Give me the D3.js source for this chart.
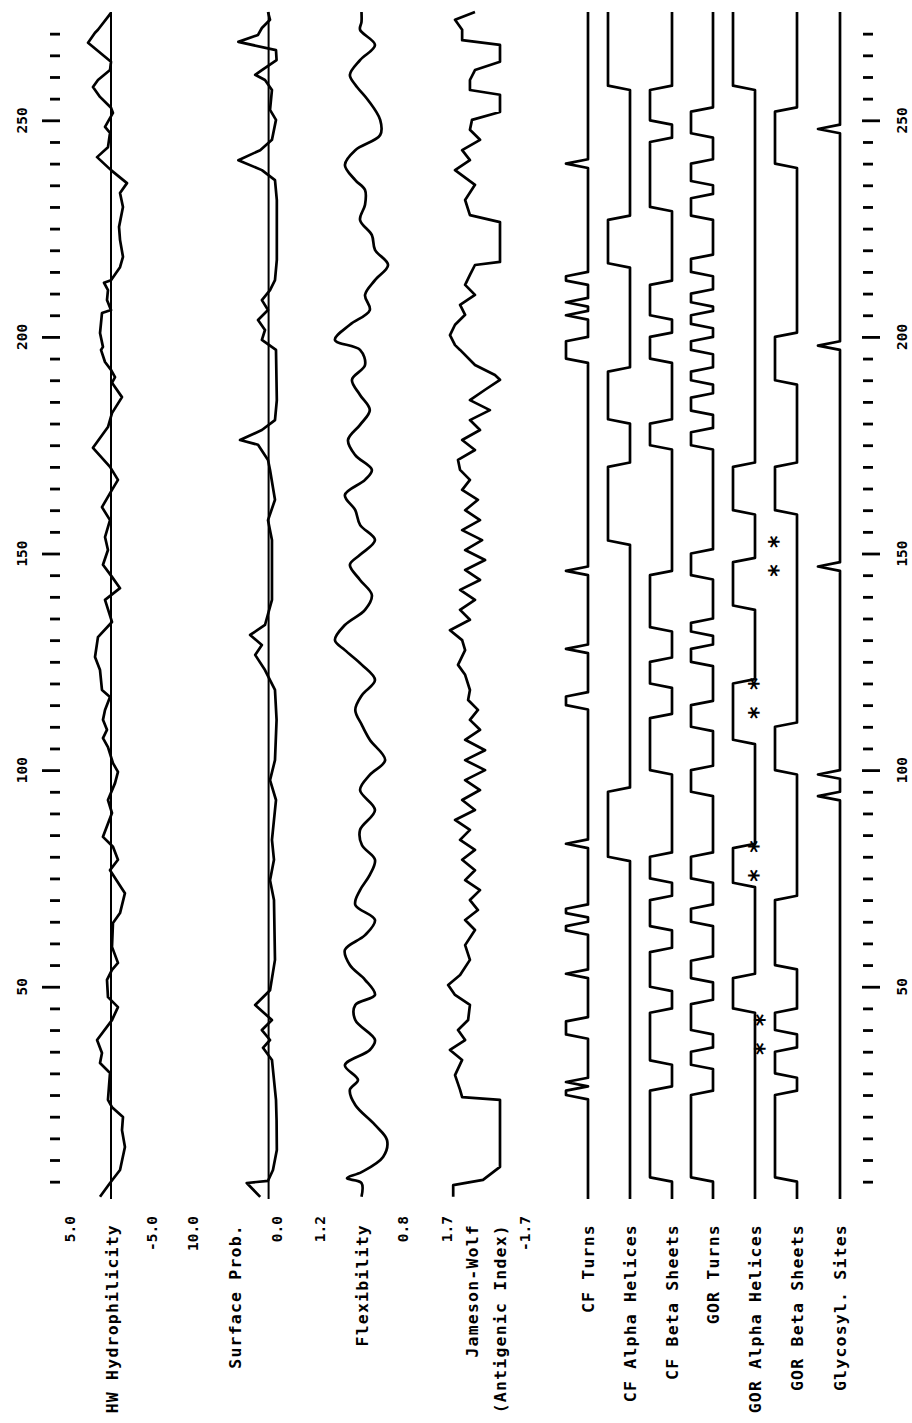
<!DOCTYPE html>
<html><head><meta charset="utf-8">
<script src="https://cdn.jsdelivr.net/npm/d3@7"></script>
<style>
body{margin:0;background:#fff}
text{font-family:"DejaVu Sans Mono","Liberation Mono",monospace;font-weight:bold;fill:#000}
</style>
</head><body>
<svg id="chart" width="912" height="1423"></svg>
<script>
// ---------------- DATA ----------------
const residueTicks = d3.range(5, 271, 5);
const residueLabels = [50, 100, 150, 200, 250];

const trackNames = ["HW Hydrophilicity", "Surface Prob.", "Flexibility", "Jameson-Wolf"];
const trackMaxLabels = ["5.0", "10.0", "1.2", "1.7"];
const trackMinLabels = ["-5.0", "0.0", "0.8", "-1.7"];
const structNames = ["CF Turns", "CF Alpha Helices", "CF Beta Sheets", "GOR Turns",
                     "GOR Alpha Helices", "GOR Beta Sheets", "Glycosyl. Sites"];

// [residue, value]
const hydrophilicity = [[1.5,1.34],[4.7,0.12],[7.7,-1.1],[13,-1.7],[16.9,-1.34],[19.9,-1.46],[22.2,-0.12],[23.9,0.37],[30.1,0.12],[32.4,1.34],[34.7,1.1],[37.7,1.7],[42.3,-0.12],[45.3,-0.85],[47.6,0.37],[51.6,0.49],[53.9,-0.12],[55.5,-0.85],[59.2,-0.12],[64.7,-0.24],[67,-1.1],[71.6,-1.7],[76.9,0.12],[79.3,-0.85],[82.3,-0.24],[84.6,0.98],[90.1,-0.12],[93.1,0.37],[97,-0.49],[99.6,-0.85],[101.6,-0.24],[105.3,0.37],[107.4,0.98],[109.3,0.49],[111.6,0.98],[113.9,0.73],[116.9,0.12],[118.5,1.1],[123.1,1.34],[126.1,1.95],[130.7,1.59],[134.2,-0.12],[139.3,0.73],[142,-1.1],[144.6,-0.12],[147.4,0.98],[150.8,0.37],[153.8,0.73],[157.7,0.12],[160.7,1.1],[164.7,-0.12],[167,-0.85],[170,0.12],[174.4,2.2],[179.2,0.37],[182.4,-0.12],[186.1,-1.34],[189.4,-0.12],[190.7,-0.49],[192.4,0],[194.2,0.73],[197,1.22],[197.7,0.98],[200.9,1.34],[205.5,1.1],[206.2,0],[208.5,0.49],[210.8,0.37],[212.5,0.85],[213.1,0],[216.1,-1.1],[218.5,-1.46],[222.4,-1.1],[225.4,-0.98],[230,-1.46],[233.2,-1.1],[235.5,-1.95],[238.5,0],[241.5,1.7],[243.8,0.37],[247.1,0.12],[248.5,0.73],[251.7,-0.24],[252.9,0],[255.4,1.34],[257.7,2.2],[259.3,1.59],[261.6,0.12],[263.5,0],[267.9,2.8],[270.2,1.95],[270.9,1.59],[274.8,0]];

const surfaceProb = [[1.5,2.0],[4.7,3.6],[5.2,1.07],[7.7,0.48],[12.3,0.02],[19.2,0.05],[23.9,0.12],[33.1,0.6],[35.9,1.67],[37.7,0.83],[40,1.8],[42.3,0.6],[45.8,2.6],[49.2,0.83],[56.2,0.24],[70,0.36],[74.6,0.83],[79.3,0.36],[83.9,0.6],[93.1,0.12],[97.7,0.83],[102.3,0.24],[111.6,0.05],[118.5,0.24],[123.1,1.43],[126.6,2.6],[128.9,1.8],[131.2,3.2],[133.5,1.43],[139.3,0.6],[153.1,0.6],[157.7,1.07],[162.4,0.24],[169.3,0.83],[171.6,1.07],[175.1,2.26],[176.2,4.4],[178.5,1.8],[180.8,0.24],[185.4,0.02],[197,0.12],[199.3,1.8],[201.6,1.43],[203.9,2.26],[206.2,1.07],[208.5,1.8],[210.8,0.83],[213.1,0.24],[217.8,0.02],[231.6,0.02],[236.2,0.24],[238.5,1.8],[240.8,4.6],[243.1,2.0],[245.5,0.6],[250.1,0.12],[252.4,0.83],[257,0.6],[259.3,1.43],[260.5,2.6],[261.6,1.8],[263.9,0.05],[266.2,0.12],[268.1,4.6],[269.7,2.26],[271.3,1.8],[273.2,0.83],[275,1.07]];

const flexibility = [[1.5,1.0],[4.7,1.0],[5.8,1.07],[7.2,1.0],[10.7,0.896],[14.6,0.877],[18.1,0.935],[22.7,1.03],[26.2,1.056],[28.5,1.017],[31.9,1.08],[35.4,0.96],[37.7,0.935],[42.3,1.03],[45.8,1.03],[48.1,0.935],[51.6,0.983],[55,1.056],[58.5,1.08],[61.9,0.983],[65.4,0.935],[68.9,1.03],[72.3,1.007],[75.8,0.96],[79.3,0.935],[82.7,0.998],[86.2,1.007],[90.8,0.935],[95.4,1.007],[98.9,0.96],[102.3,0.886],[107,0.96],[110.4,0.998],[113.9,1.03],[117.3,0.998],[120.8,0.935],[124.3,0.998],[127.7,1.08],[130,1.128],[133.5,1.08],[137,0.983],[140.4,0.95],[143.9,1.007],[147.4,1.056],[149.7,1.007],[153.1,0.935],[156.6,1.007],[160,1.03],[163.5,1.08],[167,0.983],[169.3,0.95],[172.7,1.03],[176.2,1.065],[179.7,1.007],[183.1,0.96],[186.6,1.007],[190.1,1.046],[193.5,0.983],[197,1.007],[199.3,1.128],[202.8,1.056],[206.2,0.96],[209.7,0.983],[213.1,0.935],[216.6,0.872],[220.1,0.935],[223.5,0.95],[227,1.007],[230.5,0.983],[233.9,0.983],[236.2,1.03],[239.7,1.08],[243.1,1.03],[246.6,0.91],[250.1,0.91],[254.7,0.969],[258.2,1.03],[260.5,1.056],[263.9,1.007],[267.4,0.935],[270.9,1.007],[272.7,1.0],[275,1.0]];

const jamesonWolf = [[1.5,1.43],[4.2,1.43],[5.4,0.13],[8.4,-0.61],[23.9,-0.61],[24.5,1.04],[26.2,1.13],[29.6,1.35],[33.1,1.04],[35.4,1.57],[37.7,0.91],[40,1.22],[42.3,0.78],[45.8,0.7],[48.1,1.35],[50.4,1.65],[52.7,1.13],[56.2,0.7],[59.6,0.91],[63.1,0.48],[65.4,0.91],[67.7,0.35],[70,0.7],[72.3,0.26],[74.6,0.91],[76.9,0.48],[79.3,1.04],[81.6,0.48],[83.9,1.13],[86.2,0.7],[88.5,1.35],[90.8,0.48],[93.1,1.04],[95.4,0.26],[97.7,0.91],[100,0.04],[102.3,0.91],[104.6,0.04],[107,0.91],[109.3,0.26],[111.6,0.7],[113.9,0.35],[116.2,0.78],[118.5,0.7],[122,0.91],[124.3,1.22],[127.7,0.91],[130,1.04],[132.3,1.57],[134.7,0.7],[137,1.13],[139.3,0.48],[141.6,1.13],[143.9,0.26],[146.2,0.91],[148.5,0.04],[150.8,0.91],[153.1,0.17],[155.4,1.04],[157.7,0.26],[160,0.91],[162.4,0.35],[164.7,1.04],[167,0.7],[169.3,1.13],[171.6,1.22],[173.9,0.48],[176.2,1.04],[178.5,0.26],[180.8,0.7],[183.1,-0.17],[185.4,0.7],[187.8,0.04],[190.1,-0.61],[191.2,-0.39],[193.5,0.48],[197,1.13],[198.1,1.35],[200.4,1.57],[202.8,1.35],[205.1,0.91],[207.4,1.13],[209.7,0.48],[212,0.91],[214.3,0.7],[216.6,0.48],[217.3,-0.61],[226.5,-0.61],[228.1,0.7],[231.6,0.91],[235.1,0.48],[238.5,1.35],[240.8,0.7],[243.1,1.04],[245.5,0.26],[247.8,0.7],[250.1,0.61],[251.9,-0.61],[255.9,-0.61],[257,0.7],[259.3,0.7],[261.6,0.48],[263.5,-0.61],[267.4,-0.61],[268.5,1.04],[270.9,1.04],[273.2,1.35],[275,0.48]];

// residue ranges where each structural feature is predicted
const cfTurns = [[25,26],[28,28],[39,42],[53,53],[63,64],[67,68],[83,83],[115,117],[128,128],[146,146],[195,199],[205,205],[208,208],[213,214],[240,240]];
const cfAlpha = [[80,95],[153,170],[181,192],[217,227],[258,275]];
const cfBeta = [[6,26],[33,44],[50,58],[64,70],[75,80],[100,112],[120,125],[133,145],[175,180],[195,200],[205,212],[230,245],[250,257]];
const gorTurns = [[6,25],[32,35],[40,46],[52,56],[65,68],[75,80],[95,100],[110,115],[125,128],[132,134],[145,150],[175,178],[183,186],[190,192],[197,199],[203,205],[208,210],[215,218],[228,232],[236,240],[247,252]];
const gorAlpha = [[45,52],[74,82],[107,120],[138,148],[160,170],[258,275]];
const gorBeta = [[6,25],[30,35],[40,44],[55,70],[100,110],[160,170],[190,200],[240,252]];
const glycoSites = [[94,94],[99,99],[147,147],[198,198],[248,248]];
const starResidues = [39, 79, 116.6, 149.4];

// ---------------- DRAW ----------------
const svg = d3.select("#chart");
const N = 275;
const y = d3.scaleLinear().domain([1, N]).range([1199, 12]);
const SW = 2.7;

function tickAxis(x, size, vals) {
  const ax = d3.axisRight(y).tickValues(vals).tickSize(size).tickFormat("");
  const g = svg.append("g").attr("transform", `translate(${x},0)`).call(ax);
  g.select(".domain").remove();
  g.selectAll(".tick line").attr("stroke", "#000").attr("stroke-width", 2.8);
}
const minor = residueTicks.filter(d => d % 50 !== 0);
const major = residueTicks.filter(d => d % 50 === 0);
tickAxis(50, 10, minor); tickAxis(42, 18, major);
tickAxis(863, 10, minor); tickAxis(862, 18, major);

[22, 902].forEach(x => {
  svg.selectAll(null).data(residueLabels).enter().append("text")
    .attr("transform", d => `translate(${x},${y(d)}) rotate(-90)`)
    .attr("text-anchor", "middle").attr("dy", "0.36em")
    .style("font-size", "14.5px").text(d => d);
});

const tracks = [
  {data: hydrophilicity, x: d3.scaleLinear().domain([5, -5]).range([70, 152]), base: 0, baseLine: true, curve: d3.curveLinear},
  {data: surfaceProb, x: d3.scaleLinear().domain([10, 0]).range([193, 277]), base: 1, baseLine: true, curve: d3.curveLinear},
  {data: flexibility, x: d3.scaleLinear().domain([1.2, 0.8]).range([320, 403]), base: 1, baseLine: false, curve: d3.curveCatmullRom.alpha(0.5)},
  {data: jamesonWolf, x: d3.scaleLinear().domain([1.7, -1.7]).range([447, 525]), base: 0, baseLine: false, curve: d3.curveLinear}
];
tracks.forEach((t, i) => {
  if (t.baseLine) {
    svg.append("line").attr("x1", t.x(t.base)).attr("x2", t.x(t.base))
      .attr("y1", y(N)).attr("y2", y(1)).attr("stroke", "#000").attr("stroke-width", 2);
  }
  svg.append("path").datum(t.data)
    .attr("d", d3.line().curve(t.curve).x(d => t.x(d[1])).y(d => y(d[0])))
    .attr("fill", "none").attr("stroke", "#000").attr("stroke-width", SW).attr("stroke-linejoin", "round");
  const [r0, r1] = t.x.range();
  [[r0, trackMaxLabels[i]], [r1, trackMinLabels[i]]].forEach(([x, s]) => {
    svg.append("text").attr("transform", `translate(${x},1216) rotate(-90)`)
      .attr("text-anchor", "end").attr("dy", "0.36em").style("font-size", "14.5px").text(s);
  });
});

function name(x, s) {
  svg.append("text").attr("transform", `translate(${x},1224) rotate(-90)`)
    .attr("text-anchor", "end").attr("dy", "0.36em")
    .style("font-size", "16.5px").style("letter-spacing", "1.2px").text(s);
}
name(112, trackNames[0]); name(235, trackNames[1]); name(362, trackNames[2]);
name(472, trackNames[3]); name(500, "(Antigenic Index)");

const structSets = [cfTurns, cfAlpha, cfBeta, gorTurns, gorAlpha, gorBeta, glycoSites];
const structBase = [588, 630, 672, 713, 755, 797, 840];
const residues = d3.range(1, N + 1);
structSets.forEach((ranges, i) => {
  const xs = d3.scaleLinear().domain([0, 1]).range([structBase[i], structBase[i] - 22]);
  const pts = residues.map(r => [r, ranges.some(([a, b]) => r >= a && r <= b) ? 1 : 0]);
  svg.append("path").datum(pts)
    .attr("d", d3.line().x(d => xs(d[1])).y(d => y(d[0])))
    .attr("fill", "none").attr("stroke", "#000").attr("stroke-width", SW).attr("stroke-linejoin", "round");
  name(structBase[i], structNames[i]);
});

svg.selectAll(null).data(starResidues).enter().append("text")
  .attr("transform", (d, i) => `translate(${i === 3 ? 771 : (i === 0 ? 757 : 751)},${y(d)}) rotate(-90)`)
  .attr("text-anchor", "middle").attr("dy", "0.62em")
  .style("font-size", "24px").text("* *");
</script>
</body></html>
